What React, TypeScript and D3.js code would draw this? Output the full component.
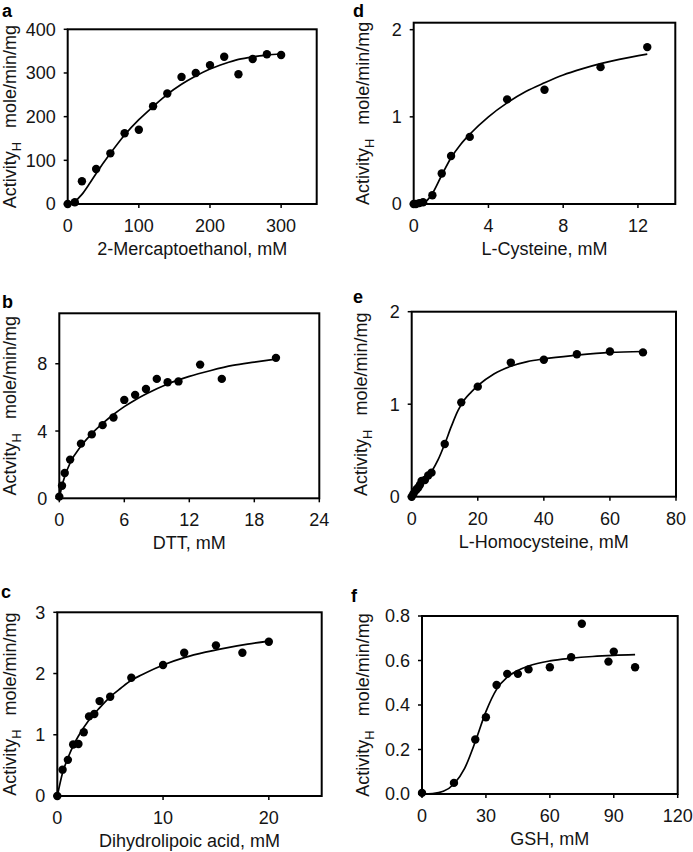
import React from "react";
import * as d3 from "d3";

// ---- Panel a: 2-Mercaptoethanol ----
const aX = [0, 10, 20, 40, 60, 80, 100, 120, 140, 160, 180, 200, 220, 240, 260, 280, 300];
const aY = [0, 4, 52, 80, 116, 162, 170, 224, 253, 291, 300, 318, 337, 297, 332, 343, 341];
const aFitX = [0, 10, 20, 30, 40, 60, 80, 100, 120, 140, 160, 180, 200, 220, 240, 260, 280, 300];
const aFitY = [0, 6, 22, 45, 70, 116, 158, 193, 223, 251, 274, 293, 309, 321, 331, 337, 341, 344];
const aXTicks = [0, 100, 200, 300];
const aYTicks = [0, 100, 200, 300, 400];

// ---- Panel b: DTT ----
const bX = [0, 0.25, 0.5, 1, 2, 3, 4, 5, 6, 7, 8, 9, 10, 11, 13, 15, 20];
const bY = [0.1, 0.75, 1.5, 2.3, 3.25, 3.8, 4.35, 4.8, 5.85, 6.15, 6.5, 7.1, 6.9, 6.95, 7.95, 7.1, 8.35];
const bFitX = [0, 0.25, 0.5, 1, 2, 3, 4, 5, 6, 7, 8, 10, 12, 14, 16, 18, 20];
const bFitY = [0, 0.75, 1.3, 2.1, 3.1, 3.85, 4.45, 4.98, 5.45, 5.85, 6.2, 6.8, 7.25, 7.6, 7.9, 8.1, 8.28];
const bXTicks = [0, 6, 12, 18, 24];
const bYTicks = [0, 4, 8];

// ---- Panel c: Dihydrolipoic acid ----
const cX = [0, 0.5, 1, 1.5, 2, 2.5, 3, 3.5, 4, 5, 7, 10, 12, 15, 17.5, 20];
const cY = [0, 0.43, 0.59, 0.84, 0.85, 1.04, 1.3, 1.34, 1.55, 1.62, 1.93, 2.14, 2.34, 2.46, 2.34, 2.52];
const cFitX = [0, 0.5, 1, 1.5, 2, 3, 4, 5, 6, 7, 8, 10, 12, 14, 16, 18, 20];
const cFitY = [0, 0.38, 0.62, 0.82, 0.98, 1.24, 1.44, 1.62, 1.76, 1.89, 1.98, 2.14, 2.26, 2.35, 2.42, 2.48, 2.53];
const cXTicks = [0, 10, 20];
const cYTicks = [0, 1, 2, 3];

// ---- Panel d: L-Cysteine ----
const dX = [0, 0.12, 0.3, 0.5, 1, 1.5, 2, 3, 5, 7, 10, 12.5];
const dY = [0, 0, 0.01, 0.02, 0.1, 0.35, 0.55, 0.77, 1.2, 1.31, 1.57, 1.8];
const dFitX = [0, 0.3, 0.6, 1, 1.5, 2, 2.5, 3, 4, 5, 6, 7, 8, 9, 10, 11, 12.5];
const dFitY = [0, 0, 0.02, 0.12, 0.33, 0.53, 0.68, 0.8, 1.0, 1.16, 1.29, 1.39, 1.48, 1.55, 1.61, 1.66, 1.72];
const dXTicks = [0, 4, 8, 12];
const dYTicks = [0, 1, 2];

// ---- Panel e: L-Homocysteine ----
const eX = [0, 0.5, 1, 1.5, 2, 2.5, 3, 4, 5, 6, 10, 15, 20, 30, 40, 50, 60, 70];
const eY = [0, 0.03, 0.06, 0.08, 0.1, 0.13, 0.17, 0.18, 0.23, 0.26, 0.57, 1.02, 1.19, 1.45, 1.48, 1.54, 1.57, 1.56];
const eFitX = [0, 2, 4, 6, 8, 10, 12, 14, 16, 18, 20, 25, 30, 35, 40, 50, 60, 70];
const eFitY = [0, 0.09, 0.17, 0.27, 0.4, 0.57, 0.76, 0.93, 1.05, 1.13, 1.2, 1.33, 1.41, 1.46, 1.49, 1.53, 1.56, 1.57];
const eXTicks = [0, 20, 40, 60, 80];
const eYTicks = [0, 1, 2];

// ---- Panel f: GSH ----
const fX = [0, 15, 25, 30, 35, 40, 45, 50, 60, 70, 75, 87.5, 90, 100];
const fY = [0.005, 0.05, 0.245, 0.345, 0.49, 0.54, 0.54, 0.56, 0.57, 0.615, 0.765, 0.595, 0.64, 0.57];
const fFitX = [0, 5, 10, 15, 20, 25, 30, 35, 40, 45, 50, 60, 70, 80, 90, 100];
const fFitY = [0, 0.002, 0.012, 0.045, 0.115, 0.235, 0.37, 0.47, 0.525, 0.555, 0.575, 0.598, 0.61, 0.618, 0.623, 0.626];
const fXTicks = [0, 30, 60, 90, 120];
const fYTicks = [0, 0.2, 0.4, 0.6, 0.8];

const FONT = "'Liberation Sans', Arial, Helvetica, sans-serif";
const INK = "#141414";

type PanelDef = {
  letter: string;
  letterX: number;
  letterY: number;
  left: number;
  right: number;
  top: number;
  bottom: number;
  xDomain: [number, number];
  yDomain: [number, number];
  xs: number[];
  ys: number[];
  fitX: number[];
  fitY: number[];
  xTicks: number[];
  yTicks: number[];
  yFmt: (v: number) => string;
  xLabel: string;
  yWord: string;
  yLabelX: number;
};

const panels: PanelDef[] = [
  {
    letter: "a", letterX: 2, letterY: 17,
    left: 67.7, right: 316.7, top: 29.3, bottom: 204,
    xDomain: [0, 350], yDomain: [0, 400],
    xs: aX, ys: aY, fitX: aFitX, fitY: aFitY,
    xTicks: aXTicks, yTicks: aYTicks, yFmt: (v) => String(v),
    xLabel: "2-Mercaptoethanol, mM", yWord: "Activity", yLabelX: 16,
  },
  {
    letter: "b", letterX: 2, letterY: 308,
    left: 59.3, right: 319.3, top: 313.3, bottom: 498.3,
    xDomain: [0, 24], yDomain: [0, 11],
    xs: bX, ys: bY, fitX: bFitX, fitY: bFitY,
    xTicks: bXTicks, yTicks: bYTicks, yFmt: (v) => String(v),
    xLabel: "DTT, mM", yWord: "Actvity", yLabelX: 16,
  },
  {
    letter: "c", letterX: 1, letterY: 598,
    left: 57.3, right: 321.7, top: 612.3, bottom: 796,
    xDomain: [0, 25], yDomain: [0, 3],
    xs: cX, ys: cY, fitX: cFitX, fitY: cFitY,
    xTicks: cXTicks, yTicks: cYTicks, yFmt: (v) => String(v),
    xLabel: "Dihydrolipoic acid, mM", yWord: "Activity", yLabelX: 16,
  },
  {
    letter: "d", letterX: 353, letterY: 17,
    left: 413.7, right: 675.3, top: 22.7, bottom: 204,
    xDomain: [0, 14], yDomain: [0, 2.08],
    xs: dX, ys: dY, fitX: dFitX, fitY: dFitY,
    xTicks: dXTicks, yTicks: dYTicks, yFmt: (v) => String(v),
    xLabel: "L-Cysteine, mM", yWord: "Activity", yLabelX: 369,
  },
  {
    letter: "e", letterX: 353, letterY: 303,
    left: 411.7, right: 676, top: 311.7, bottom: 496.7,
    xDomain: [0, 80], yDomain: [0, 2],
    xs: eX, ys: eY, fitX: eFitX, fitY: eFitY,
    xTicks: eXTicks, yTicks: eYTicks, yFmt: (v) => String(v),
    xLabel: "L-Homocysteine, mM", yWord: "Activity", yLabelX: 367,
  },
  {
    letter: "f", letterX: 351, letterY: 602,
    left: 422, right: 677.7, top: 616, bottom: 794,
    xDomain: [0, 120], yDomain: [0, 0.8],
    xs: fX, ys: fY, fitX: fFitX, fitY: fFitY,
    xTicks: fXTicks, yTicks: fYTicks, yFmt: d3.format(".1f"),
    xLabel: "GSH, mM", yWord: "Activity", yLabelX: 369,
  },
];

function Panel({ p }: { p: PanelDef }) {
  const x = d3.scaleLinear().domain(p.xDomain).range([p.left, p.right]);
  const y = d3.scaleLinear().domain(p.yDomain).range([p.bottom, p.top]);
  const line = d3
    .line<number>()
    .x((_, i) => x(p.fitX[i]))
    .y((v) => y(v))
    .curve(d3.curveMonotoneX);
  const cx = (p.left + p.right) / 2;
  const cy = (p.top + p.bottom) / 2;
  return (
    <g>
      <text x={p.letterX} y={p.letterY} fontSize={18} fontWeight="bold" fill="#000">
        {p.letter}
      </text>
      <path d={line(p.fitY) || ""} fill="none" stroke="#000" strokeWidth={1.7} />
      {p.xs.map((v, i) => (
        <circle key={i} cx={x(v)} cy={y(p.ys[i])} r={4.2} fill="#000" />
      ))}
      <rect
        x={p.left}
        y={p.top}
        width={p.right - p.left}
        height={p.bottom - p.top}
        fill="none"
        stroke="#000"
        strokeWidth={2}
      />
      {p.xTicks.map((t) => (
        <g key={"x" + t}>
          <line x1={x(t)} x2={x(t)} y1={p.bottom} y2={p.bottom + 4} stroke="#000" strokeWidth={1.5} />
          <text x={x(t)} y={p.bottom + 28} textAnchor="middle" fontSize={18} fill={INK}>
            {t}
          </text>
        </g>
      ))}
      {p.yTicks.map((t) => (
        <g key={"y" + t}>
          <line x1={p.left - 4} x2={p.left} y1={y(t)} y2={y(t)} stroke="#000" strokeWidth={1.5} />
          <text x={p.left - 12} y={y(t)} dy="0.36em" textAnchor="end" fontSize={18} fill={INK}>
            {p.yFmt(t)}
          </text>
        </g>
      ))}
      <text x={cx} y={p.bottom + 51} textAnchor="middle" fontSize={18} fill={INK}>
        {p.xLabel}
      </text>
      <text
        transform={`translate(${p.yLabelX},${cy}) rotate(-90)`}
        textAnchor="middle"
        fontSize={18}
        fill={INK}
      >
        {p.yWord}
        <tspan fontSize={13} dy={5}>H</tspan>
        <tspan dy={-5} dx={14}>mole/min/mg</tspan>
      </text>
    </g>
  );
}

export default function App() {
  return (
    <svg
      width={693}
      height={852}
      viewBox="0 0 693 852"
      style={{ position: "absolute", left: 0, top: 0, background: "#fff" }}
      fontFamily={FONT}
    >
      <rect x={0} y={0} width={693} height={852} fill="#fff" />
      {panels.map((p) => (
        <Panel key={p.letter} p={p} />
      ))}
    </svg>
  );
}
